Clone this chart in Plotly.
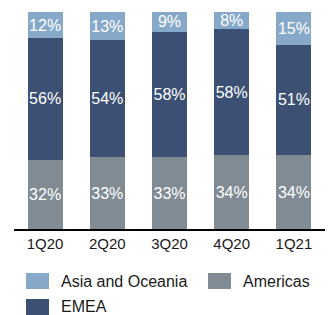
import plotly.graph_objects as go

quarters = ["1Q20", "2Q20", "3Q20", "4Q20", "1Q21"]
americas = [32, 33, 33, 34, 34]
emea = [56, 54, 58, 58, 51]
asia = [12, 13, 9, 8, 15]

series = [
    ("Americas", americas, "#808b94"),
    ("EMEA", emea, "#3b5072"),
    ("Asia and Oceania", asia, "#87a9c9"),
]

FONT = "Liberation Sans, Arial, sans-serif"

fig = go.Figure()
for name, vals, color in series:
    fig.add_trace(go.Bar(
        x=quarters, y=vals, name=name,
        marker=dict(color=color, line=dict(width=0)),
        text=[f"{v}%" for v in vals],
        textposition="inside", insidetextanchor="middle", textangle=0,
        textfont=dict(family=FONT, size=16, color="white"),
        showlegend=False, hoverinfo="skip",
    ))

# manual legend (swatch + label), positioned in paper coordinates
L, R, T, B = 14, 5, 12, 86
W, H = 330, 315
pw, ph = W - L - R, H - T - B

def px2x(px):
    return (px - L) / pw

def px2y(py):
    return (H - B - py) / ph

legend_items = [
    ("Asia and Oceania", "#87a9c9", 26, 273, 281),
    ("Americas", "#808b94", 208, 273, 281),
    ("EMEA", "#3b5072", 26, 299, 306.5),
]
for name, color, x0, y0, ty in legend_items:
    fig.add_shape(type="rect", xref="paper", yref="paper",
                  x0=px2x(x0), x1=px2x(x0 + 23), y0=px2y(y0), y1=px2y(y0 + 16),
                  fillcolor=color, line=dict(width=0))
    fig.add_annotation(xref="paper", yref="paper", x=px2x(x0 + 34), y=px2y(ty),
                       text=name, showarrow=False, xanchor="left", yanchor="middle",
                       borderpad=0,
                       font=dict(family=FONT, size=16, color="#1a1a1a"))

fig.update_layout(
    width=W, height=H,
    margin=dict(l=L, r=R, t=T, b=B),
    barmode="stack", bargap=0.435,
    plot_bgcolor="white", paper_bgcolor="white",
    uniformtext=dict(minsize=16, mode="show"),
    xaxis=dict(showline=True, linecolor="black", linewidth=2, ticks="",
               tickfont=dict(family=FONT, size=15, color="#1a1a1a"),
               range=[-0.5, 4.5]),
    yaxis=dict(range=[0, 100], visible=False, showgrid=False),
)

fig.write_html("out.html", config={"displayModeBar": False},
               post_script="document.body.style.margin='0';document.body.style.overflow='hidden';")
